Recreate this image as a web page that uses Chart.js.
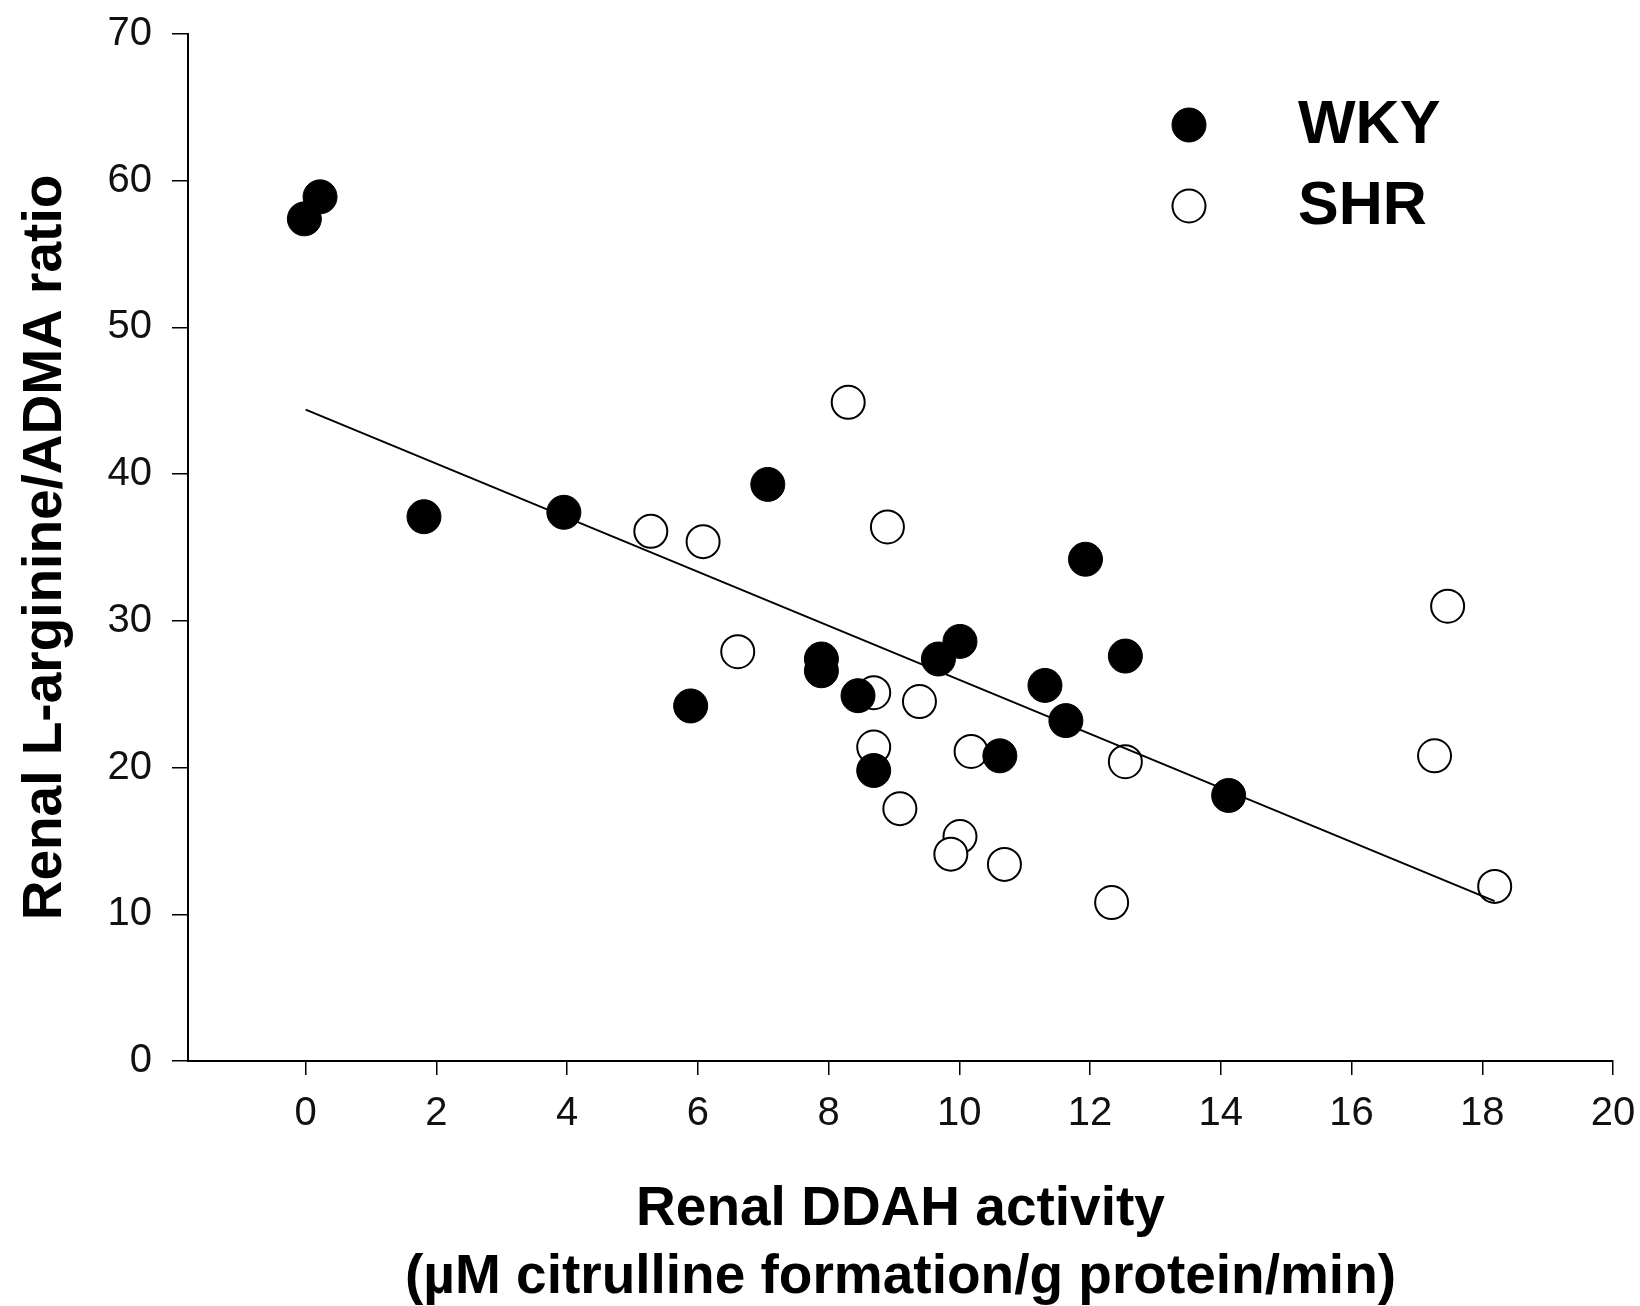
<!DOCTYPE html>
<html>
<head>
<meta charset="utf-8">
<script src="https://cdn.jsdelivr.net/npm/chart.js@4.4.1/dist/chart.umd.min.js"></script>
<style>
    html, body { margin: 0; padding: 0; background: #fff; }
    #wrap { width: 1640px; height: 1306px; }
</style>
</head>
<body>
<div id="wrap"><canvas id="ratioChart" width="1640" height="1306"></canvas></div>
<script>
// WKY (filled circles)
const wkyX = [-0.02, 0.22, 1.81, 3.95, 7.07, 5.89, 7.89, 7.89, 8.45, 8.69, 9.68, 10.01, 10.62, 11.93, 11.31, 11.63, 12.54, 14.12];
const wkyY = [57.4, 58.9, 37.1, 37.4, 39.3, 24.2, 27.4, 26.6, 24.9, 19.8, 27.4, 28.6, 20.8, 34.2, 25.6, 23.2, 27.6, 18.1];

// SHR (open circles)
const shrX = [8.30, 5.28, 6.08, 8.90, 17.47, 6.61, 8.69, 9.39, 8.69, 10.18, 12.54, 17.27, 9.09, 10.01, 9.87, 10.69, 12.33, 18.19];
const shrY = [44.9, 36.1, 35.4, 36.4, 31.0, 27.9, 25.1, 24.5, 21.4, 21.1, 20.4, 20.8, 17.2, 15.3, 14.1, 13.4, 10.8, 11.9];

// regression line end points
const fitX = [0, 18.19];
const fitY = [44.4, 10.9];

const xTicks = [0, 2, 4, 6, 8, 10, 12, 14, 16, 18, 20];
const yTicks = [0, 10, 20, 30, 40, 50, 60, 70];

const toPoints = (xs, ys) => xs.map((x, i) => ({ x: x, y: ys[i] }));

const FONT = "'Liberation Sans', Arial, Helvetica, sans-serif";

const pointLegend = {
    id: 'pointLegend',
    afterDraw(chart, args, opts) {
        const ctx = chart.ctx;
        ctx.save();
        ctx.font = 'bold 61px ' + FONT;
        ctx.textBaseline = 'middle';
        ctx.textAlign = 'left';
        let y = opts.y;
        chart.data.datasets.forEach(ds => {
            if (!ds.inLegend) return;
            ctx.beginPath();
            ctx.arc(opts.x, y, ds.pointRadius, 0, Math.PI * 2);
            ctx.fillStyle = ds.pointBackgroundColor;
            ctx.fill();
            ctx.lineWidth = ds.pointBorderWidth;
            ctx.strokeStyle = ds.pointBorderColor;
            ctx.stroke();
            ctx.fillStyle = '#000';
            ctx.fillText(ds.label, opts.textX, y + 1);
            y += opts.gap;
        });
        ctx.restore();
    }
};

const ctx = document.getElementById('ratioChart').getContext('2d');
new Chart(ctx, {
    type: 'scatter',
    data: {
        datasets: [
            {
                type: 'line',
                label: 'fit',
                data: toPoints(fitX, fitY),
                borderColor: '#000',
                borderWidth: 2,
                pointRadius: 0,
                fill: false,
                order: 0
            },
            {
                label: 'WKY',
                inLegend: true,
                data: toPoints(wkyX, wkyY),
                pointRadius: 17,
                pointBackgroundColor: '#000',
                pointBorderColor: '#000',
                pointBorderWidth: 1,
                order: 1
            },
            {
                label: 'SHR',
                inLegend: true,
                data: toPoints(shrX, shrY),
                pointRadius: 16.5,
                pointBackgroundColor: '#fff',
                pointBorderColor: '#000',
                pointBorderWidth: 2,
                order: 1
            }
        ]
    },
    options: {
        responsive: false,
        animation: false,
        devicePixelRatio: 1,
        layout: { padding: { top: 34, right: 27, bottom: 0, left: 0 } },
        plugins: {
            legend: { display: false },
            tooltip: { enabled: false },
            pointLegend: { x: 1189, y: 125, textX: 1298, gap: 81 }
        },
        scales: {
            x: {
                type: 'linear',
                min: -1.8,
                max: 20,
                afterBuildTicks: axis => { axis.ticks = xTicks.map(v => ({ value: v })); },
                afterFit: axis => { axis.height = 245; },
                border: { display: true, color: '#000', width: 2 },
                grid: { display: true, drawOnChartArea: false, drawTicks: true, tickLength: 14, color: '#000', lineWidth: 1.5 },
                ticks: {
                    color: '#111',
                    padding: 0,
                    font: { family: "'Liberation Sans Narrow', " + FONT, size: 40, lineHeight: 1.95 },
                    maxRotation: 0,
                    autoSkip: false
                },
                title: {
                    display: true,
                    text: ['Renal DDAH activity', '(\u00b5M citrulline formation/g protein/min)'],
                    color: '#000',
                    font: { family: FONT, size: 55, weight: 'bold', lineHeight: 68 / 55 },
                    padding: { top: 0, bottom: -6 }
                }
            },
            y: {
                type: 'linear',
                min: 0,
                max: 70,
                afterBuildTicks: axis => { axis.ticks = yTicks.map(v => ({ value: v })); },
                afterFit: axis => { axis.width = 188; },
                border: { display: true, color: '#000', width: 2 },
                grid: { display: true, drawOnChartArea: false, drawTicks: true, tickLength: 16, color: '#000', lineWidth: 1.5 },
                ticks: {
                    color: '#111',
                    padding: 20,
                    font: { family: FONT, size: 40, lineHeight: 0.6 }
                },
                title: {
                    display: true,
                    text: 'Renal L-arginine/ADMA ratio',
                    color: '#000',
                    font: { family: FONT, size: 55, weight: 'bold', lineHeight: 1.2 },
                    padding: { top: 13, bottom: 0 }
                }
            }
        }
    },
    plugins: [pointLegend]
});
</script>
</body>
</html>
